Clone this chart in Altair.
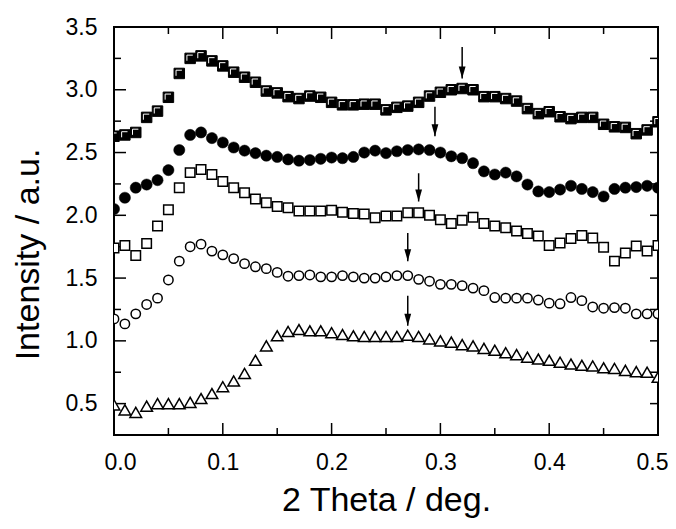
import altair as alt
import pandas as pd

theta = [0.00, 0.01, 0.02, 0.03, 0.04, 0.05, 0.06, 0.07, 0.08, 0.09,
         0.10, 0.11, 0.12, 0.13, 0.14, 0.15, 0.16, 0.17, 0.18, 0.19,
         0.20, 0.21, 0.22, 0.23, 0.24, 0.25, 0.26, 0.27, 0.28, 0.29,
         0.30, 0.31, 0.32, 0.33, 0.34, 0.35, 0.36, 0.37, 0.38, 0.39,
         0.40, 0.41, 0.42, 0.43, 0.44, 0.45, 0.46, 0.47, 0.48, 0.49, 0.50]

s_filled_sq = [2.63, 2.64, 2.66, 2.78, 2.83, 2.94, 3.13, 3.25, 3.27, 3.23,
               3.19, 3.14, 3.10, 3.06, 2.99, 2.975, 2.945, 2.93, 2.95, 2.94,
               2.90, 2.88, 2.88, 2.885, 2.885, 2.84, 2.86, 2.87, 2.90, 2.95,
               2.98, 3.00, 3.01, 3.00, 2.945, 2.945, 2.93, 2.91, 2.85, 2.81,
               2.825, 2.785, 2.77, 2.78, 2.78, 2.725, 2.705, 2.70, 2.65, 2.68, 2.745]

s_filled_ci = [2.05, 2.14, 2.22, 2.245, 2.28, 2.36, 2.52, 2.64, 2.66, 2.615,
               2.58, 2.54, 2.515, 2.495, 2.475, 2.465, 2.445, 2.435, 2.44, 2.45,
               2.46, 2.455, 2.465, 2.50, 2.515, 2.495, 2.51, 2.52, 2.525, 2.52,
               2.50, 2.47, 2.455, 2.415, 2.35, 2.325, 2.34, 2.31, 2.245, 2.19,
               2.185, 2.205, 2.235, 2.21, 2.185, 2.15, 2.21, 2.22, 2.225, 2.235, 2.22]

s_open_sq = [1.74, 1.76, 1.68, 1.775, 1.915, 2.045, 2.22, 2.34, 2.365, 2.325,
             2.27, 2.22, 2.18, 2.13, 2.10, 2.07, 2.06, 2.035, 2.035, 2.035,
             2.04, 2.025, 2.015, 2.01, 1.98, 1.995, 1.995, 2.02, 2.02, 2.00,
             1.965, 1.935, 1.96, 1.985, 1.935, 1.915, 1.90, 1.875, 1.855, 1.835,
             1.76, 1.78, 1.815, 1.84, 1.82, 1.745, 1.635, 1.70, 1.755, 1.715, 1.76]

s_open_ci = [1.175, 1.135, 1.215, 1.29, 1.34, 1.485, 1.635, 1.75, 1.77, 1.715,
             1.685, 1.655, 1.615, 1.59, 1.575, 1.545, 1.515, 1.52, 1.525, 1.51,
             1.51, 1.52, 1.51, 1.50, 1.50, 1.51, 1.52, 1.52, 1.49, 1.475,
             1.45, 1.45, 1.44, 1.42, 1.40, 1.345, 1.34, 1.34, 1.34, 1.325,
             1.30, 1.295, 1.345, 1.32, 1.27, 1.26, 1.265, 1.26, 1.215, 1.215, 1.215]

s_triangle = [0.49, 0.45, 0.43, 0.48, 0.50, 0.50, 0.50, 0.51, 0.54, 0.58,
              0.635, 0.68, 0.74, 0.845, 0.96, 1.04, 1.075, 1.09, 1.08, 1.08,
              1.065, 1.05, 1.04, 1.035, 1.035, 1.035, 1.035, 1.045, 1.035, 1.015,
              1.00, 0.99, 0.97, 0.96, 0.94, 0.925, 0.905, 0.89, 0.87, 0.855,
              0.845, 0.83, 0.815, 0.805, 0.80, 0.785, 0.78, 0.765, 0.755, 0.75, 0.71]

arrow_x = [0.32, 0.295, 0.28, 0.27, 0.27]
arrow_top = [3.34, 2.865, 2.335, 1.86, 1.36]
arrow_tip = [3.09, 2.63, 2.11, 1.635, 1.12]

x_major = [0.0, 0.1, 0.2, 0.3, 0.4, 0.5]
x_minor = [0.05, 0.15, 0.25, 0.35, 0.45]
y_major = [0.5, 1.0, 1.5, 2.0, 2.5, 3.0, 3.5]
y_minor = [0.75, 1.25, 1.75, 2.25, 2.75, 3.25]

W, H = 544, 408
FONT = "Liberation Sans"

xs = alt.Scale(domain=[0.0, 0.5], nice=False, zero=False)
ys = alt.Scale(domain=[0.25, 3.5], nice=False, zero=False)

xaxis = alt.Axis(values=x_major, format=".1f", title="2 Theta / deg.",
                 ticks=False, tickSize=0, domain=False, grid=False,
                 labelFlush=True, labelFlushOffset=10, labelPadding=16, titlePadding=9,
                 labelFontSize=23, titleFontSize=34, titleFontWeight="normal",
                 labelFont=FONT, titleFont=FONT, labelColor="black", titleColor="black")
yaxis = alt.Axis(values=y_major, format=".1f", title="Intensity / a.u.",
                 ticks=False, tickSize=0, domain=False, grid=False,
                 labelFlush=False, labelPadding=17, titlePadding=20, titleY=227,
                 labelFontSize=23, titleFontSize=34, titleFontWeight="normal",
                 labelFont=FONT, titleFont=FONT, labelColor="black", titleColor="black")


def X(field):
    return alt.X(field, type="quantitative", scale=xs, axis=xaxis)


def Y(field):
    return alt.Y(field, type="quantitative", scale=ys, axis=yaxis)


dx_major = pd.DataFrame({"v": x_major})
dx_minor = pd.DataFrame({"v": x_minor})
dy_major = pd.DataFrame({"v": y_major})
dy_minor = pd.DataFrame({"v": y_minor})

tick_style = dict(color="black", strokeWidth=1.5)
ticks = [
    alt.Chart(dx_major).mark_rule(**tick_style).encode(x=X("v"), y=alt.value(H), y2=alt.value(H - 12)),
    alt.Chart(dx_minor).mark_rule(**tick_style).encode(x=X("v"), y=alt.value(H), y2=alt.value(H - 7)),
    alt.Chart(dx_major).mark_rule(**tick_style).encode(x=X("v"), y=alt.value(0), y2=alt.value(12)),
    alt.Chart(dx_minor).mark_rule(**tick_style).encode(x=X("v"), y=alt.value(0), y2=alt.value(7)),
    alt.Chart(dy_major).mark_rule(**tick_style).encode(y=Y("v"), x=alt.value(0), x2=alt.value(12)),
    alt.Chart(dy_minor).mark_rule(**tick_style).encode(y=Y("v"), x=alt.value(0), x2=alt.value(7)),
    alt.Chart(dy_major).mark_rule(**tick_style).encode(y=Y("v"), x=alt.value(W), x2=alt.value(W - 8)),
    alt.Chart(dy_minor).mark_rule(**tick_style).encode(y=Y("v"), x=alt.value(W), x2=alt.value(W - 8)),
]


def series_df(vals):
    return pd.DataFrame({"theta": theta, "I": vals})


enc = dict(x=X("theta"), y=Y("I"))

filled_sq = alt.Chart(series_df(s_filled_sq)).mark_point(
    shape="square", filled=True, fill="black", stroke="black", strokeWidth=1,
    size=110, opacity=1, clip=True).encode(**enc)
filled_sq_hi = alt.Chart(series_df(s_filled_sq)).mark_point(
    shape="M-0.62,0.45L-0.62,-0.62L0.5,-0.62", filled=False, stroke="white",
    strokeWidth=1, size=110, opacity=1, clip=True).encode(**enc)
filled_ci = alt.Chart(series_df(s_filled_ci)).mark_point(
    shape="circle", filled=True, fill="black", stroke="black", strokeWidth=0.5,
    size=125, opacity=1, clip=True).encode(**enc)
open_sq = alt.Chart(series_df(s_open_sq)).mark_point(
    shape="square", filled=True, fill="white", stroke="black", strokeWidth=1.5,
    size=90, opacity=1, clip=True).encode(**enc)
open_ci = alt.Chart(series_df(s_open_ci)).mark_point(
    shape="circle", filled=True, fill="white", stroke="black", strokeWidth=1.5,
    size=88, opacity=1, clip=True).encode(**enc)
triangles = alt.Chart(series_df(s_triangle)).mark_point(
    shape="triangle-up", filled=True, fill="white", stroke="black", strokeWidth=1.5,
    size=135, opacity=1, clip=True).encode(**enc)

arrows_df = pd.DataFrame({"x": arrow_x, "top": arrow_top, "tip": arrow_tip})
arrow_lines = alt.Chart(arrows_df).mark_rule(color="black", strokeWidth=1.5).encode(
    x=X("x"), y=Y("top"), y2=alt.Y2("tip"))
arrow_heads = alt.Chart(arrows_df).mark_point(
    shape="M-0.85,-3L0.85,-3L0,0Z", filled=True, fill="black", strokeWidth=0,
    size=64, opacity=1).encode(x=X("x"), y=Y("tip"))

chart = alt.layer(
    *ticks, triangles, open_ci, open_sq, filled_ci, filled_sq, filled_sq_hi,
    arrow_lines, arrow_heads
).properties(
    width=W, height=H,
    autosize=alt.AutoSizeParams(type="none"),
    padding={"left": 106, "top": 19, "right": 10, "bottom": 86},
    background="white",
).configure_view(stroke="black", strokeWidth=2)

chart.save("out.html", embed_options={"renderer": "svg", "actions": False})
